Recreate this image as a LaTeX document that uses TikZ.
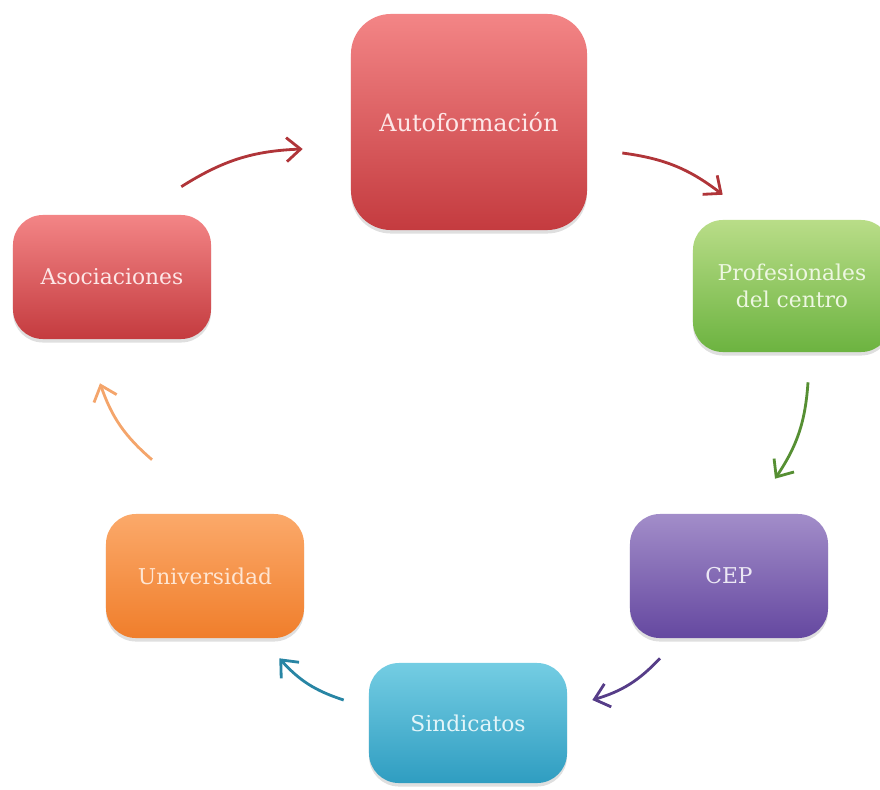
\documentclass[tikz,border=0pt]{standalone}
\usepackage{fontspec}
\setmainfont{DejaVu Serif}
\usetikzlibrary{arrows.meta,shadows,calc}

\definecolor{redtop}{HTML}{F38586}
\definecolor{redbot}{HTML}{C43B3F}
\definecolor{greentop}{HTML}{B9DD88}
\definecolor{greenbot}{HTML}{6CB340}
\definecolor{purpletop}{HTML}{A28DC9}
\definecolor{purplebot}{HTML}{6548A0}
\definecolor{bluetop}{HTML}{74CDE3}
\definecolor{bluebot}{HTML}{2F9DC1}
\definecolor{orangetop}{HTML}{FBA96A}
\definecolor{orangebot}{HTML}{F07E2B}

\begin{document}
\begin{tikzpicture}[x=0.025cm, y=-0.025cm,
  box/.style = {rounded corners=0.75cm, minimum width=4.95cm, minimum height=3.1cm,
    align=center, font=\fontsize{15.5}{19}\selectfont,
    drop shadow={shadow xshift=0pt, shadow yshift=-2.5pt, opacity=.25}},
  redbox/.style = {box, top color=redtop, bottom color=redbot, text=white!80!redtop},
  greenbox/.style = {box, top color=greentop, bottom color=greenbot, text=white!75!greentop},
  purplebox/.style = {box, top color=purpletop, bottom color=purplebot, text=white!80!purpletop},
  bluebox/.style = {box, top color=bluetop, bottom color=bluebot, text=white!80!bluetop},
  orangebox/.style = {box, top color=orangetop, bottom color=orangebot, text=white!70!orangetop},
  arr/.style = {-{Straight Barb[length=3.5mm,width=6mm]}, line width=2pt, bend left=15}]
	\useasboundingbox (0,0) rectangle (880,789);
	\clip (0,0) rectangle (880,789);

	\node[redbox, minimum width=5.9cm, minimum height=5.4cm, rounded corners=1cm, font=\fontsize{17}{20}\selectfont] (auto) at (469,122) {Autoformación};
	\node[greenbox, minimum height=3.3cm] (prof) at (792,286) {Profesionales\\del centro};
	\node[purplebox] (cep) at (729,576) {CEP};
	\node[bluebox, minimum height=3cm] (sind) at (468,723) {Sindicatos};
	\node[orangebox] (univ) at (205,576) {Universidad};
	\node[redbox] (asoc) at (112,277) {Asociaciones};

	\draw[arr, draw=redbot!90!black] ($(asoc.north east)+(-30,-28)$) to ($(auto.west)+(-48,27)$);
	\draw[arr, draw=redbot!90!black] ($(auto.east)+(35,31)$) to ($(prof.north west)+(30,-25)$);
	\draw[arr, draw=greenbot!80!black] ($(prof.south)+(16,30)$) to ($(cep.north)+(46,-35)$);
	\draw[arr, draw=purplebot!85!black] ($(cep.south)+(-69,20)$) to ($(sind.east)+(25,-23)$);
	\draw[arr, draw=bluebot!85!black] ($(sind.west)+(-25,-23)$) to ($(univ.south east)+(-25,20)$);
	\draw[arr, draw=orangebot!70!white] ($(univ.north)+(-53,-54)$) to ($(asoc.south)+(-12,44)$);
\end{tikzpicture}
\end{document}
